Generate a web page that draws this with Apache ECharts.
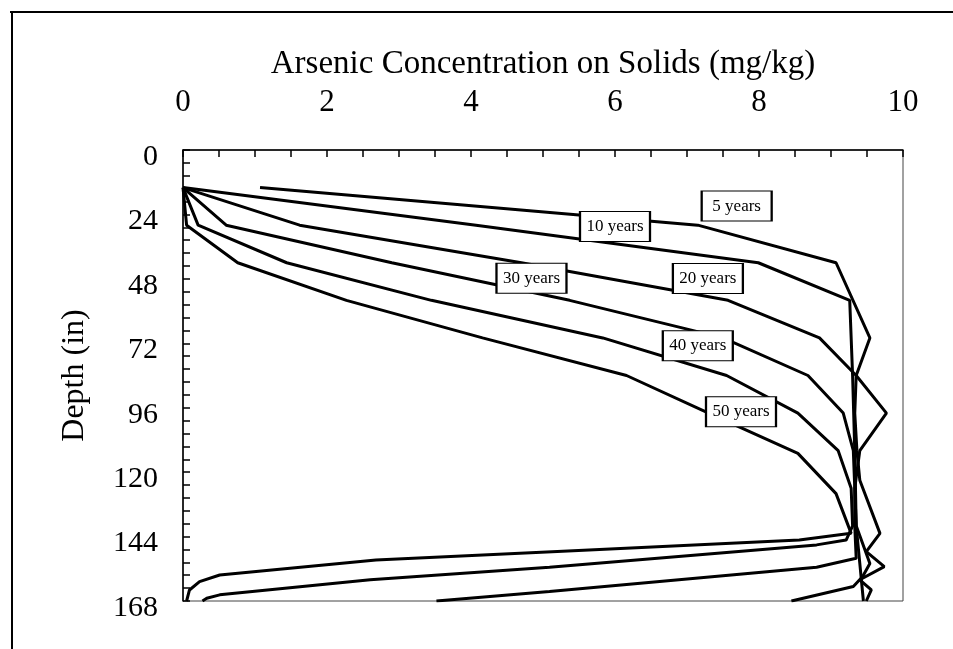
<!DOCTYPE html>
<html>
<head>
<meta charset="utf-8">
<script src="https://cdn.jsdelivr.net/npm/echarts@6/dist/echarts.min.js"></script>
<style>
html,body{margin:0;padding:0;background:#fff;}
#chart{width:953px;height:649px;}
</style>
</head>
<body>
<div id="chart"></div>
<script>
// Axis ticks
const xTicks = [0, 2, 4, 6, 8, 10];
const yTicks = [0, 24, 48, 72, 96, 120, 144, 168];

// Series: depth (in) and arsenic concentration (mg/kg)
const depth5  = [14, 28, 42, 70, 84, 98, 112, 123, 142.8, 149.6, 155.2, 160.1, 163.9, 168];
const conc5   = [1.07, 7.15, 9.07, 9.54, 9.35, 9.33, 9.36, 9.40, 9.68, 9.49, 9.74, 9.40, 9.56, 9.49];

const depth10 = [14, 28, 42, 56, 84, 112, 140, 154, 168];
const conc10  = [0, 4.07, 7.99, 9.26, 9.30, 9.33, 9.35, 9.40, 9.45];

const depth20 = [14, 28, 42, 56, 70, 84, 98, 112, 126, 140, 154, 158.9, 162.6, 168];
const conc20  = [0, 1.62, 4.7, 7.57, 8.84, 9.35, 9.77, 9.40, 9.33, 9.35, 9.54, 9.44, 9.31, 8.45];

const depth30 = [14, 28, 42, 56, 70, 84, 98, 112, 126, 140, 152.1, 155.4, 164.5, 168];
const conc30  = [0, 0.6, 2.9, 5.37, 7.5, 8.68, 9.17, 9.31, 9.33, 9.33, 9.35, 8.8, 5.09, 3.52];

const depth40 = [14, 28, 42, 56, 70, 84, 98, 112, 126, 140, 145.3, 147.1, 155.4, 160.1, 165.7, 167, 168];
const conc40  = [0, 0.21, 1.44, 3.45, 5.83, 7.55, 8.54, 9.1, 9.28, 9.3, 9.21, 8.8, 5.09, 2.6, 0.51, 0.33, 0.27];

const depth50 = [14, 28, 42, 56, 70, 84, 98, 113, 128, 142.8, 145.3, 149.6, 152.7, 158.3, 160.8, 163.9, 168];
const conc50  = [0, 0.05, 0.76, 2.27, 4.16, 6.16, 7.3, 8.54, 9.07, 9.28, 8.56, 5.2, 2.68, 0.51, 0.23, 0.09, 0.05];

// Curve labels and their anchor (concentration, depth)
const labelNames = ['5 years', '10 years', '20 years', '30 years', '40 years', '50 years'];
const labelConc  = [7.69, 6.0, 7.29, 4.84, 7.15, 7.75];
const labelDepth = [20.9, 28.5, 47.9, 47.8, 72.9, 97.5];

const seriesDepths = [depth5, depth10, depth20, depth30, depth40, depth50];
const seriesConcs  = [conc5, conc10, conc20, conc30, conc40, conc50];

const FONT = 'Liberation Serif';

const series = seriesDepths.map((d, i) => ({
  type: 'line',
  name: labelNames[i],
  showSymbol: false,
  symbol: 'none',
  smooth: false,
  data: d.map((v, j) => [seriesConcs[i][j], v]),
  lineStyle: { color: '#000', width: 3 },
  z: 2,
  markPoint: {
    symbol: 'rect',
    symbolSize: [70, 30],
    silent: true,
    z: 5,
    itemStyle: { color: '#fff', borderColor: '#000', borderWidth: 1.5 },
    label: {
      show: true, position: 'inside', color: '#000',
      fontFamily: FONT, fontSize: 17,
      formatter: labelNames[i]
    },
    data: [{ coord: [labelConc[i], labelDepth[i]] }]
  }
}));

const chart = echarts.init(document.getElementById('chart'), null, { renderer: 'canvas' });
chart.setOption({
  animation: false,
  backgroundColor: '#fff',
  grid: {
    left: 183, top: 150, right: 50, bottom: 48,
    show: true, borderColor: '#444', borderWidth: 1, backgroundColor: 'transparent'
  },
  xAxis: {
    type: 'value', position: 'top', min: 0, max: 10, interval: 2,
    name: 'Arsenic Concentration on Solids (mg/kg)',
    nameLocation: 'middle', nameGap: 69,
    nameTextStyle: { fontFamily: FONT, fontSize: 33, color: '#000' },
    axisLine: { show: true, lineStyle: { color: '#000', width: 1.5 } },
    axisTick: { show: true, inside: true, length: 7, lineStyle: { color: '#000', width: 1.5 } },
    minorTick: { show: true, splitNumber: 4, length: 7, lineStyle: { color: '#000', width: 1.5 } },
    splitLine: { show: false },
    axisLabel: {
      fontFamily: FONT, fontSize: 31, color: '#000', margin: 32,
      customValues: xTicks, formatter: v => String(v)
    }
  },
  yAxis: {
    type: 'value', inverse: true, min: 0, max: 168, interval: 24,
    name: 'Depth (in)',
    nameLocation: 'middle', nameGap: 92, nameRotate: 90,
    nameTextStyle: { fontFamily: FONT, fontSize: 32, color: '#000' },
    axisLine: { show: true, lineStyle: { color: '#000', width: 1.5 } },
    axisTick: { show: true, inside: true, length: 7, lineStyle: { color: '#000', width: 1.5 } },
    minorTick: { show: true, splitNumber: 5, length: 7, lineStyle: { color: '#000', width: 1.5 } },
    splitLine: { show: false },
    axisLabel: {
      fontFamily: FONT, fontSize: 30, color: '#000', margin: 25,
      verticalAlign: 'top', lineHeight: 14,
      customValues: yTicks, formatter: v => String(v)
    }
  },
  graphic: [
    { type: 'line', shape: { x1: 10, y1: 12, x2: 953, y2: 12 }, style: { stroke: '#000', lineWidth: 2 }, silent: true },
    { type: 'line', shape: { x1: 12, y1: 11, x2: 12, y2: 649 }, style: { stroke: '#000', lineWidth: 2 }, silent: true }
  ],
  series: series
});
</script>
</body>
</html>
